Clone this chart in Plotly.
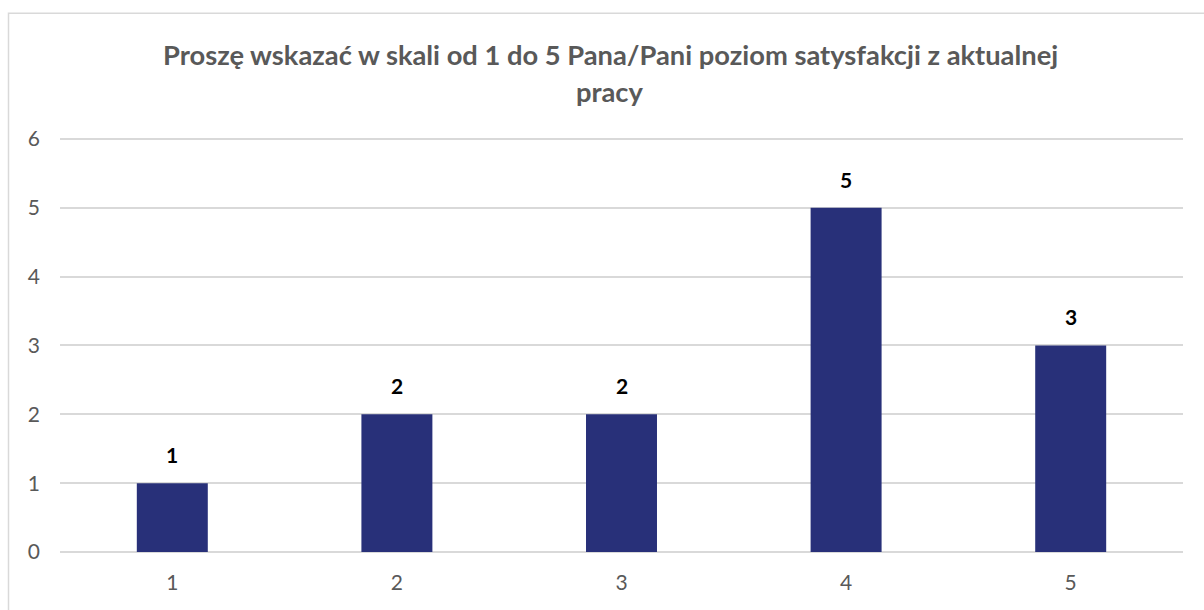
import plotly.graph_objects as go

categories = ["1", "2", "3", "4", "5"]
values = [1, 2, 2, 5, 3]
title_line1 = "Proszę wskazać w skali od 1 do 5 Pana/Pani poziom satysfakcji z aktualnej"
title_line2 = "pracy"

W, H = 1204, 610
L, R, B = 60, 21, 58
YMAX = 6.1
ph = (552 - 139) * YMAX / 6
T = H - B - ph
pw = W - L - R
FONT = "Lato, sans-serif"

fig = go.Figure(go.Bar(
    x=categories, y=values,
    marker=dict(color="#283079", line=dict(width=0)),
    width=0.316,
    cliponaxis=False,
))

def py(px):
    return (H - B - px) / ph

def pxx(px):
    return (px - L) / pw

annotations = [
    dict(text="<b>" + str(v) + "</b>", x=i, y=v, xref="x", yref="y",
         showarrow=False, xanchor="center", yanchor="bottom", yshift=14,
         font=dict(family=FONT, size=21, color="#000000"))
    for i, v in enumerate(values)
]
annotations += [
    dict(text="<b>" + title_line1 + "</b>", xref="paper", yref="paper",
         x=pxx(610), y=py(55), showarrow=False, xanchor="center", yanchor="middle",
         font=dict(family=FONT, size=27.3, color="#595959")),
    dict(text="<b>" + title_line2 + "</b>", xref="paper", yref="paper",
         x=pxx(610), y=py(92), showarrow=False, xanchor="center", yanchor="middle",
         font=dict(family=FONT, size=27.3, color="#595959")),
]

fig.update_layout(
    width=W, height=H,
    margin=dict(l=L, r=R, t=T, b=B),
    paper_bgcolor="white", plot_bgcolor="white",
    showlegend=False,
    xaxis=dict(type="category", showgrid=False, showline=False, ticks="", ticklabelstandoff=16,
               tickfont=dict(family=FONT, size=21, color="#595959")),
    yaxis=dict(range=[0, YMAX], tickvals=[0, 1, 2, 3, 4, 5, 6], showgrid=True,
               gridcolor="#d9d9d9", gridwidth=1.5,
               zeroline=True, zerolinecolor="#d9d9d9", zerolinewidth=1.5,
               showline=False, ticks="", ticklabelstandoff=19,
               tickfont=dict(family=FONT, size=21, color="#595959")),
    annotations=annotations,
    shapes=[dict(type="rect", xref="paper", yref="paper",
                 x0=pxx(8.5), x1=pxx(1260), y0=py(700), y1=py(13.5),
                 line=dict(color="#d9d9d9", width=1.5), fillcolor="rgba(0,0,0,0)", layer="below")],
)

fig.write_html("out.html", config={"displayModeBar": False},
               post_script="document.body.style.margin='0';document.body.style.overflow='hidden';")
